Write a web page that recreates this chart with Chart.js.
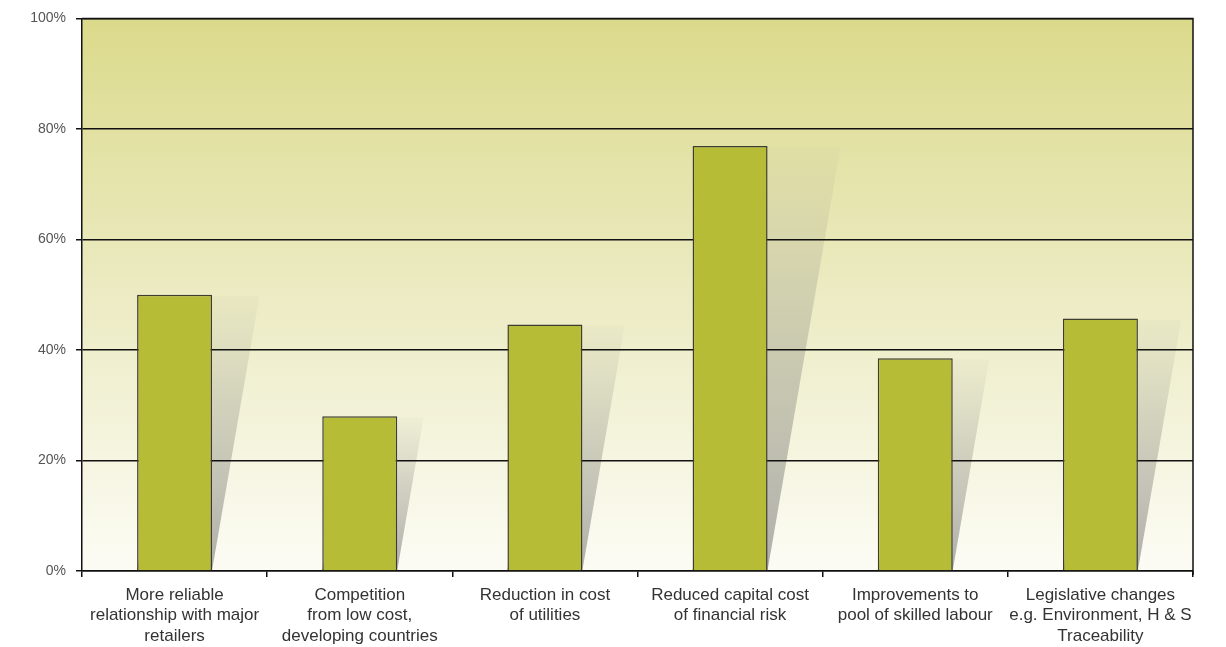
<!DOCTYPE html>
<html>
<head>
<meta charset="utf-8">
<script src="https://cdn.jsdelivr.net/npm/chart.js@4/dist/chart.umd.min.js"></script>
<style>
  html, body { margin: 0; padding: 0; background: #ffffff; }
  #wrap { width: 1226px; height: 647px; }
</style>
</head>
<body>
<div id="wrap"><canvas id="c" width="1226" height="647"></canvas></div>
<script>
// Drivers of change: share of respondents (%)
const categories = [
  ["More reliable", "relationship with major", "retailers"],
  ["Competition", "from low cost,", "developing countries"],
  ["Reduction in cost", "of utilities"],
  ["Reduced capital cost", "of financial risk"],
  ["Improvements to", "pool of skilled labour"],
  ["Legislative changes", "e.g. Environment, H & S", "Traceability"]
];
const shares = [50, 28, 44.6, 76.9, 38.5, 45.7];
const yTicks = [0, 20, 40, 60, 80, 100];

// Plot background gradient plus the slanted shadow behind every bar
const backdrop = {
  id: 'backdrop',
  beforeDraw(chart) {
    const { ctx, chartArea: a } = chart;
    ctx.save();
    const g = ctx.createLinearGradient(0, a.top, 0, a.bottom);
    g.addColorStop(0, '#dbda8b');
    g.addColorStop(0.5, '#ecebc3');
    g.addColorStop(1, '#fcfcf5');
    ctx.fillStyle = g;
    ctx.fillRect(a.left, a.top, a.right - a.left, a.bottom - a.top);

    const meta = chart.getDatasetMeta(0);
    meta.data.forEach(bar => {
      const { x, y, base, width } = bar.getProps(['x', 'y', 'base', 'width'], true);
      const h = base - y;
      const right = x + width / 2;
      const left = x - width / 2;
      const lean = h * 0.172;
      const sg = ctx.createLinearGradient(0, y, 0, base);
      sg.addColorStop(0, 'rgba(140,140,125,0.04)');
      sg.addColorStop(0.4, 'rgba(125,125,115,0.28)');
      sg.addColorStop(1, 'rgba(120,120,118,0.58)');
      ctx.fillStyle = sg;
      ctx.beginPath();
      ctx.moveTo(left + lean, y + 1);
      ctx.lineTo(right + lean, y + 1);
      ctx.lineTo(right, base);
      ctx.lineTo(left, base);
      ctx.closePath();
      ctx.fill();
    });
    ctx.restore();
  },
  afterDraw(chart) {
    const { ctx, chartArea: a } = chart;
    ctx.save();
    ctx.strokeStyle = '#111';
    ctx.lineWidth = 1.5;
    ctx.beginPath();
    ctx.moveTo(a.left, a.top);
    ctx.lineTo(a.right, a.top);
    ctx.lineTo(a.right, a.bottom + 4);
    ctx.stroke();
    ctx.restore();
  }
};

new Chart(document.getElementById('c'), {
  type: 'bar',
  data: {
    labels: categories,
    datasets: [{
      data: shares,
      backgroundColor: '#b6bc35',
      borderColor: '#3d3d30',
      borderWidth: 1.5,
      barPercentage: 0.405,
      categoryPercentage: 1.0
    }]
  },
  options: {
    responsive: false,
    animation: false,
    layout: { padding: { top: 16, right: 33, bottom: 0, left: 0 } },
    plugins: { legend: { display: false }, tooltip: { enabled: false } },
    scales: {
      x: {
        offset: true,
        grid: {
          offset: true,
          drawOnChartArea: false,
          drawTicks: true,
          tickLength: 6,
          color: '#111',
          lineWidth: 1.5
        },
        border: { display: true, color: '#111', width: 1.5 },
        ticks: {
          autoSkip: false,
          maxRotation: 0,
          minRotation: 0,
          padding: 8,
          color: '#333',
          font: { family: '"Liberation Sans", Arial, sans-serif', size: 17, lineHeight: 1.2 }
        },
        afterFit(scale) { scale.height = 76; }
      },
      y: {
        min: 0,
        max: 100,
        afterBuildTicks(scale) { scale.ticks = yTicks.map(v => ({ value: v })); },
        grid: {
          color: '#111',
          lineWidth: 1.5,
          drawTicks: true,
          tickLength: 6
        },
        border: { display: true, color: '#111', width: 1.5 },
        ticks: {
          padding: 10,
          color: '#555',
          font: { family: '"Liberation Sans", Arial, sans-serif', size: 14 },
          callback: v => v + '%'
        },
        afterFit(scale) { scale.width = 82; }
      }
    }
  },
  plugins: [backdrop]
});
</script>
</body>
</html>
